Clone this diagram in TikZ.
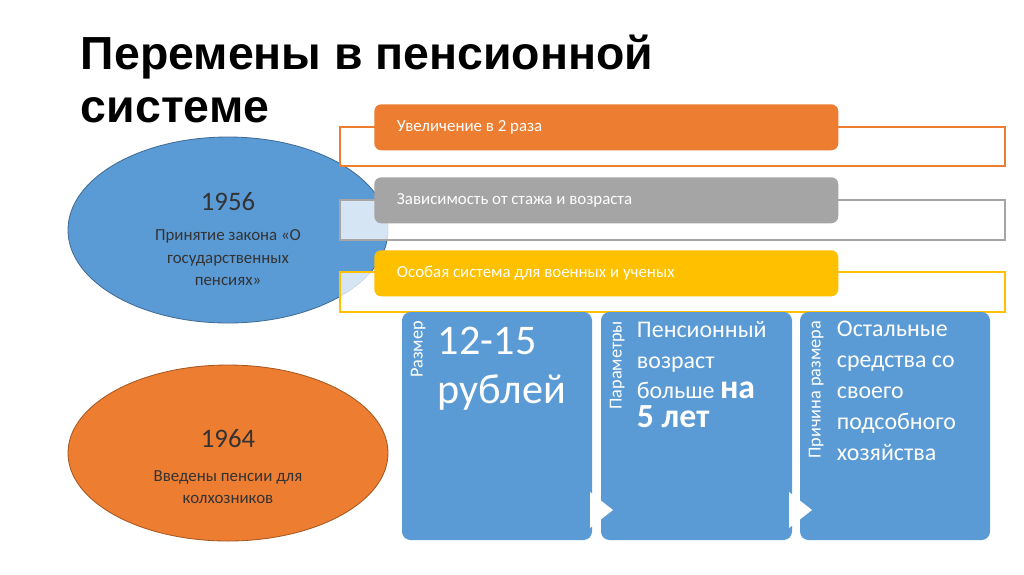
\documentclass[tikz,border=0pt]{standalone}
\usepackage{fontspec}
\setmainfont{Carlito}
\newfontfamily\titlefont{Liberation Sans}
\usetikzlibrary{shapes.geometric}
\definecolor{myorange}{RGB}{237,125,49}
\definecolor{mygray}{RGB}{165,165,165}
\definecolor{myyellow}{RGB}{255,192,0}
\definecolor{myblue}{RGB}{91,155,213}

\newlength{\pxu}
\setlength{\pxu}{0.025cm}
\tikzset{
  bar/.style={fill=#1, rounded corners=5pt, anchor=north west, minimum height=46\pxu},
  frame/.style={draw=#1, fill=white, fill opacity=0.75, line width=0.8pt},
  oval/.style={ellipse, fill=#1, draw=myblue!70!black, line width=0.6pt, text=white, align=center},
  card/.style={fill=myblue, rounded corners=6pt},
  side/.style={rotate=90, text=white, font=\fontsize{13}{15}\selectfont, anchor=north east},
  body/.style={text=white, anchor=north west, align=left},
  tip/.style={fill=white}
}

\begin{document}
\begin{tikzpicture}[x=0.025cm, y=-0.025cm]
  \useasboundingbox (0,0) rectangle (1024,574);

  % title
  \node[anchor=north west, font=\titlefont\bfseries\fontsize{33}{38}\selectfont, align=left] (title) at (76,30) {Перемены в пенсионной\\системе};

  % ovals
  \node[oval=myblue, minimum width=320\pxu, minimum height=186\pxu] (y1956) at (228,230) {};
  \node[text=black!80, align=center, font=\fontsize{19}{22}\selectfont] (t1956) at (228,202) {1956};
  \node[text=black!80, align=center, font=\fontsize{12}{16}\selectfont] (d1956) at (228,258) {Принятие закона «О\\государственных\\пенсиях»};
  \node[oval=myorange, draw=myorange!70!black, minimum width=320\pxu, minimum height=176\pxu] (y1964) at (228,453) {};
  \node[text=black!80, font=\fontsize{19}{22}\selectfont] (t1964) at (228,439) {1964};
  \node[text=black!80, align=center, font=\fontsize{12}{16}\selectfont] (d1964) at (228,487) {Введены пенсии для\\колхозников};

  % frames and bars
  \draw[frame=myorange] (340,127) rectangle (1005,166);
  \draw[frame=mygray] (340,200) rectangle (1005,240);
  \draw[frame=myyellow] (340,272) rectangle (1005,312);
  \node[bar=myorange, minimum width=464\pxu] (b1) at (374,104) {};
  \node[bar=mygray, minimum width=464\pxu] (b2) at (374,177) {};
  \node[bar=myyellow, minimum width=464\pxu] (b3) at (374,250) {};
  \node[text=white, anchor=west, font=\fontsize{12}{14}\selectfont] at ([xshift=18\pxu]b1.west) {Увеличение в 2 раза};
  \node[text=white, anchor=west, font=\fontsize{12}{14}\selectfont] at ([xshift=18\pxu]b2.west) {Зависимость от стажа и возраста};
  \node[text=white, anchor=west, font=\fontsize{12}{14}\selectfont] at ([xshift=18\pxu]b3.west) {Особая система для военных и ученых};

  % cards
  \fill[card] (402,312) rectangle (592,540);
  \fill[card] (601,312) rectangle (792,540);
  \fill[card] (800,312) rectangle (990,540);
  \fill[tip] (590,492) -- (613,510) -- (590,528) -- cycle;
  \fill[tip] (789,492) -- (812,510) -- (789,528) -- cycle;

  \node[side] (s1) at (406,316) {Размер};
  \node[side] (s2) at (605,316) {Параметры};
  \node[side] (s3) at (804,316) {Причина размера};
  \node[body, font=\fontsize{30}{35}\selectfont] (c1) at (433,322) {12-15\\рублей};
  \node[body, font=\fontsize{17}{22}\selectfont] (c2) at (632,316) {Пенсионный\\возраст\\больше {\fontsize{24}{28}\selectfont\bfseries на}\\[-2pt]{\fontsize{24}{28}\selectfont\bfseries 5 лет}};
  \node[body, font=\fontsize{17}{22}\selectfont] (c3) at (832,316) {Остальные\\средства со\\своего\\подсобного\\хозяйства};
\end{tikzpicture}
\end{document}
